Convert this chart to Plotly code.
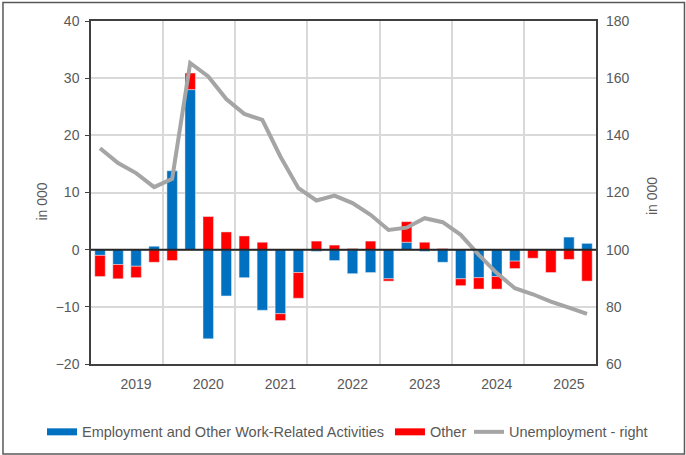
import plotly.graph_objects as go

# Quarterly changes, 2019Q1 - 2025Q4 (thousands)
quarters = [f"{y}Q{q}" for y in range(2019, 2026) for q in range(1, 5)]
employment = [-1.0, -2.6, -2.9, 0.6, 13.8, 28.0, -15.6, -8.1,
              -4.9, -10.6, -11.2, -4.0, -0.3, -1.9, -4.2, -4.0,
              -5.1, 1.3, -0.3, -2.2, -5.1, -4.9, -4.7, -2.0,
              0.0, 0.0, 2.2, 1.1]
other = [-3.7, -2.5, -2.0, -2.2, -1.9, 2.9, 5.8, 3.1,
         2.4, 1.3, -1.2, -4.5, 1.5, 0.8, 0.2, 1.5,
         -0.4, 3.6, 1.3, 0.2, -1.2, -2.0, -2.2, -1.3,
         -1.5, -4.0, -1.7, -5.5]
unemployment = [135.5, 130.3, 126.8, 121.9, 124.8, 165.3, 160.6, 152.7,
                147.5, 145.4, 132.6, 121.5, 117.2, 118.9, 116.3, 112.2,
                106.9, 107.7, 111.0, 109.6, 105.2, 98.2, 91.8, 86.5,
                84.4, 81.8, 79.7, 77.5]
years = ["2019", "2020", "2021", "2022", "2023", "2024", "2025"]

BLUE = "#0070C0"
RED = "#FF0000"
GREY = "#A5A5A5"
TXT = "#595959"
GRID = "#D9D9D9"

x = list(range(len(quarters)))
year_label_pos = [4 * i + 2 for i in range(len(years))]
year_bounds = [4 * i - 0.5 for i in range(1, len(years))]

fig = go.Figure()
fig.add_trace(go.Bar(x=x, y=employment, name="Employment and Other Work-Related Activities",
                     marker_color=BLUE, showlegend=False, customdata=quarters))
fig.add_trace(go.Bar(x=x, y=other, name="Other", marker_color=RED,
                     showlegend=False, customdata=quarters))
fig.add_trace(go.Scatter(x=x, y=unemployment, name="Unemployment - right", mode="lines",
                         line=dict(color=GREY, width=4), yaxis="y2", showlegend=False))

# one single-row legend per series, with wide line swatches
legend_items = [("Employment and Other Work-Related Activities", BLUE, 7, "legend", -0.097),
                ("Other", RED, 7, "legend2", 0.592),
                ("Unemployment - right", GREY, 4, "legend3", 0.7485)]
legend_layouts = {}
for name, col, w, lg, lx in legend_items:
    fig.add_trace(go.Scatter(x=[None], y=[None], mode="lines", name=name,
                             line=dict(color=col, width=w), legend=lg))
    legend_layouts[lg] = dict(orientation="h", x=lx, xanchor="left", y=-0.198,
                              yanchor="middle", font=dict(size=14.5, color=TXT),
                              itemwidth=30, bgcolor="rgba(0,0,0,0)")

fig.update_layout(
    width=686, height=455,
    margin=dict(l=91, r=90, t=21, b=91, autoexpand=False),
    paper_bgcolor="white", plot_bgcolor="white",
    barmode="relative", bargap=0.42,
    font=dict(family="Liberation Sans, Arial, sans-serif", size=14, color=TXT),
    xaxis=dict(range=[-0.5, len(x) - 0.5], tickmode="array", tickvals=year_label_pos,
               ticktext=years, showgrid=False, zeroline=False,
               showline=True, linecolor="#404040", linewidth=1.5, mirror=True,
               ticks="", ticklabelstandoff=6,
               minor=dict(tickmode="array", tickvals=year_bounds, showgrid=True,
                          gridcolor=GRID, gridwidth=1.5, ticks="")),
    yaxis=dict(range=[-20, 40], dtick=10, showgrid=True, gridcolor=GRID, gridwidth=1.5,
               zeroline=False, showline=True, linecolor="#404040", linewidth=1.5,
               mirror=True, ticks="outside", ticklen=4, tickcolor="#404040",
               ticklabelstandoff=3),
    yaxis2=dict(range=[60, 180], dtick=20, overlaying="y", side="right",
                showgrid=False, zeroline=False, showline=False, ticks="",
                ticklabelstandoff=9),
    shapes=[
        dict(type="line", xref="paper", yref="y", x0=0, x1=1, y0=0, y1=0,
             line=dict(color="#262626", width=2), layer="above"),
        dict(type="rect", xref="paper", yref="paper",
             x0=-0.1743, x1=1.1752, y0=-0.2624, y1=1.054,
             line=dict(color="#595959", width=1.5), layer="below"),
    ],
    annotations=[
        dict(text="in 000", xref="paper", yref="paper", x=-0.116, y=0.475,
             textangle=-90, showarrow=False, font=dict(size=14, color=TXT)),
        dict(text="in 000", xref="paper", yref="paper", x=1.131, y=0.49,
             textangle=-90, showarrow=False, font=dict(size=14, color=TXT)),
    ],
    **legend_layouts,
)

fig.write_html("out.html")
